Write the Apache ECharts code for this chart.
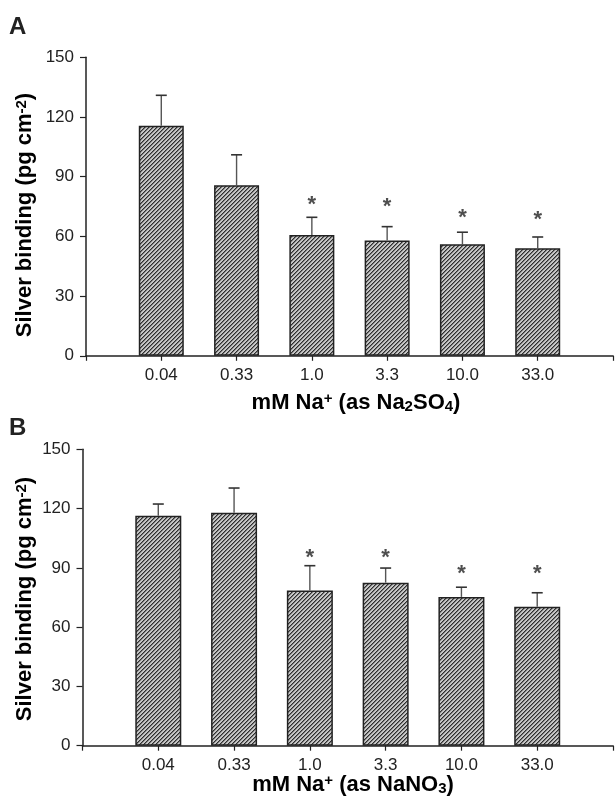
<!DOCTYPE html>
<html><head><meta charset="utf-8">
<script src="https://cdn.jsdelivr.net/npm/echarts@6/dist/echarts.min.js"></script>
<style>html,body{margin:0;padding:0;background:#fff}#c{width:616px;height:799px}</style>
</head><body><div id="c"></div>
<script>
const categories = ['0.04', '0.33', '1.0', '3.3', '10.0', '33.0'];
const yTicks = [0, 30, 60, 90, 120, 150];
// Panel A: Na2SO4
const sulfateValues = [115.6, 85.7, 60.7, 58.0, 56.0, 54.0];
const sulfateErrorTops = [130.9, 101.0, 69.6, 64.9, 62.1, 59.7];
const sulfateStars = [null, null, 78.3, 77.3, 71.8, 70.8];
// Panel B: NaNO3
const nitrateValues = [116.4, 117.9, 78.6, 82.5, 75.3, 70.3];
const nitrateErrorTops = [122.3, 130.4, 91.1, 89.9, 80.2, 77.4];
const nitrateStars = [null, null, 97.4, 97.7, 89.3, 89.3];

const FONT = '"Liberation Sans", Arial, sans-serif';
const INK = '#222';

function hatch() {
  const c = document.createElement('canvas'); c.width = 4; c.height = 4;
  const g = c.getContext('2d');
  g.fillStyle = '#c6c6c6'; g.fillRect(0, 0, 4, 4);
  for (let i = 0; i < 4; i++) {
    g.fillStyle = '#2e2e2e'; g.fillRect(i, 3 - i, 1, 1);
    g.fillStyle = '#7a7a7a'; g.fillRect((i + 1) % 4, 3 - i, 1, 1);
  }
  return c;
}
const pattern = { image: hatch(), repeat: 'repeat' };

function errRender(params, api) {
  const x = api.value(0), y0 = api.value(1), y1 = api.value(2);
  const p0 = api.coord([x, y0]), p1 = api.coord([x, y1]);
  const hw = 5.5;
  return { type: 'group', children: [
    { type: 'line', shape: { x1: p0[0], y1: p0[1], x2: p1[0], y2: p1[1] }, style: { stroke: '#555', lineWidth: 1.4 } },
    { type: 'line', shape: { x1: p1[0] - hw, y1: p1[1], x2: p1[0] + hw, y2: p1[1] }, style: { stroke: '#333', lineWidth: 1.6 } }
  ]};
}

function xAxis(idx) {
  return {
    type: 'value', gridIndex: idx, min: 0, max: categories.length + 1, interval: 1,
    axisLine: { show: true, lineStyle: { color: INK, width: 1.5 } },
    axisTick: { show: true, length: 5, lineStyle: { color: INK, width: 1.2 } },
    axisLabel: { formatter: v => categories[v - 1] || '', fontSize: 17, color: INK, fontFamily: FONT, margin: 11, showMinLabel: true, showMaxLabel: true },
    splitLine: { show: false }
  };
}
function yAxis(idx) {
  return {
    type: 'value', gridIndex: idx, min: yTicks[0], max: yTicks[yTicks.length - 1], interval: yTicks[1] - yTicks[0],
    axisLine: { show: true, lineStyle: { color: INK, width: 1.5 } },
    axisTick: { show: true, length: 6, lineStyle: { color: INK, width: 1.2 } },
    axisLabel: { fontSize: 17, color: INK, fontFamily: FONT, margin: 12 },
    splitLine: { show: false }
  };
}
function panelSeries(idx, values, errs, stars, bw) {
  return [
    { type: 'bar', xAxisIndex: idx, yAxisIndex: idx, barWidth: bw,
      data: values.map((v, i) => [i + 1, v]),
      itemStyle: { color: pattern, borderColor: INK, borderWidth: 1.5 }, silent: true },
    { type: 'custom', xAxisIndex: idx, yAxisIndex: idx, renderItem: errRender, z: 3,
      encode: { x: 0, y: [1, 2] },
      data: values.map((v, i) => [i + 1, v, errs[i]]) },
    { type: 'scatter', xAxisIndex: idx, yAxisIndex: idx, symbolSize: 0, z: 4,
      data: stars.map((s, i) => s == null ? null : [i + 1, s]).filter(d => d),
      label: { show: true, position: 'inside', formatter: '*', fontSize: 22, fontWeight: 'bold', color: INK, fontFamily: FONT, offset: [0, 5] } }
  ];
}

const nameRich = {
  b: { fontSize: 22, fontWeight: 'bold', fontFamily: FONT, color: INK },
  sup: { fontSize: 15, fontWeight: 'bold', fontFamily: FONT, color: INK, verticalAlign: 'top' },
  sub: { fontSize: 15, fontWeight: 'bold', fontFamily: FONT, color: INK, verticalAlign: 'bottom', padding: [8, 0, 0, 0] }
};
const yRich = {
  b: { fontSize: 22, fontWeight: 'bold', fontFamily: FONT, color: INK },
  sup: { fontSize: 15, fontWeight: 'bold', fontFamily: FONT, color: INK, verticalAlign: 'top' }
};

function textEl(x, y, text, rich, rot) {
  return { type: 'text', x: x, y: y, rotation: rot || 0,
    style: { text: text, rich: rich, align: 'center', verticalAlign: 'middle' } };
}

const option = {
  animation: false,
  backgroundColor: '#fff',
  grid: [
    { left: 86, top: 57.3, width: 528, height: 298.5 },
    { left: 82.5, top: 449.3, width: 536, height: 296.4 }
  ],
  xAxis: [xAxis(0), xAxis(1)],
  yAxis: [yAxis(0), yAxis(1)],
  series: [].concat(
    panelSeries(0, sulfateValues, sulfateErrorTops, sulfateStars, 45),
    panelSeries(1, nitrateValues, nitrateErrorTops, nitrateStars, 46)
  ),
  graphic: [
    { type: 'text', x: 9, y: 27, style: { text: 'A', fontSize: 24, fontWeight: 'bold', fontFamily: FONT, fill: INK, verticalAlign: 'middle' } },
    { type: 'text', x: 9, y: 428, style: { text: 'B', fontSize: 24, fontWeight: 'bold', fontFamily: FONT, fill: INK, verticalAlign: 'middle' } },
    textEl(356, 403, '{b|mM Na}{sup|+}{b| (as Na}{sub|2}{b|SO}{sub|4}{b|)}', nameRich),
    textEl(353, 785, '{b|mM Na}{sup|+}{b| (as NaNO}{sub|3}{b|)}', nameRich),
    textEl(25, 215, '{b|Silver binding (pg cm}{sup|-2}{b|)}', yRich, Math.PI / 2),
    textEl(25, 599, '{b|Silver binding (pg cm}{sup|-2}{b|)}', yRich, Math.PI / 2)
  ]
};
const chart = echarts.init(document.getElementById('c'), null, { renderer: 'canvas' });
chart.setOption(option);
</script></body></html>
